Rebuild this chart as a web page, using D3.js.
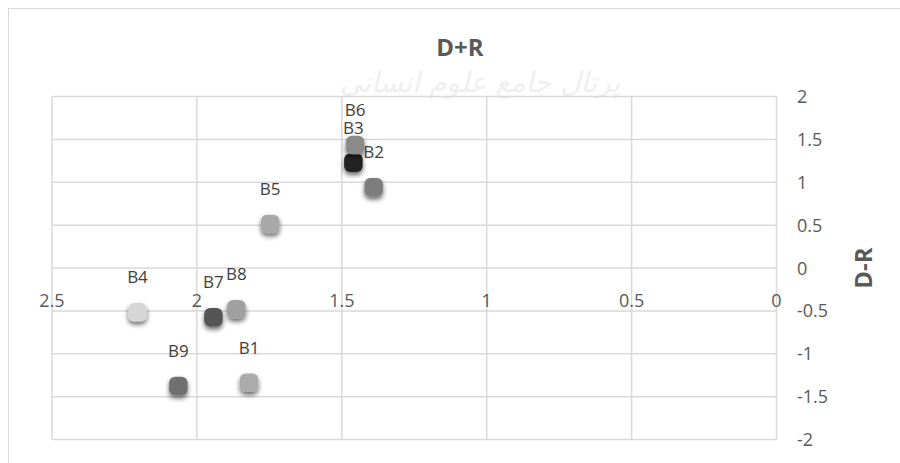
<!DOCTYPE html>
<html><head><meta charset="utf-8">
<script src="https://cdn.jsdelivr.net/npm/d3@7"></script>
<style>body{margin:0;background:#fff;}svg{display:block;font-family:"Open Sans","Noto Sans",sans-serif;}</style>
</head><body>
<svg id="c" width="900" height="463"></svg>
<script>
const names = ["B1","B2","B3","B4","B5","B6","B7","B8","B9"];
const dPlusR = [1.82, 1.39, 1.46, 2.205, 1.747, 1.454, 1.943, 1.864, 2.064];
const dMinusR = [-1.337, 0.941, 1.228, -0.517, 0.513, 1.434, -0.575, -0.48, -1.376];
const fills = ["#ababab","#7d7d7d","#222222","#d6d6d6","#a8a8a8","#8a8a8a","#555555","#a0a0a0","#707070"];
const xTicks = [2.5, 2, 1.5, 1, 0.5, 0];
const yTicks = [2, 1.5, 1, 0.5, 0, -0.5, -1, -1.5, -2];
const title = "D+R", yTitle = "D-R";
const watermark = "پرتال جامع علوم انسانی";

const svg = d3.select("#c");
const x = d3.scaleLinear().domain([2.5, 0]).range([52, 776.5]);
const y = d3.scaleLinear().domain([-2, 2]).range([439.5, 96.5]);

const defs = svg.append("defs");
const f = defs.append("filter").attr("id","sh").attr("x","-60%").attr("y","-60%").attr("width","220%").attr("height","220%");
f.append("feGaussianBlur").attr("in","SourceAlpha").attr("stdDeviation",2.6).attr("result","b");
f.append("feOffset").attr("in","b").attr("dx",0).attr("dy",3).attr("result","o");
f.append("feComponentTransfer").attr("in","o").attr("result","o2").append("feFuncA").attr("type","linear").attr("slope",0.6);
const m = f.append("feMerge");
m.append("feMergeNode").attr("in","o2");
m.append("feMergeNode").attr("in","SourceGraphic");

// faint watermark
svg.append("text").attr("x",480).attr("y",92).attr("text-anchor","middle")
  .attr("font-family","'DejaVu Sans',sans-serif").attr("font-size",28).attr("fill","#efefef")
  .attr("font-style","italic").text(watermark);

// chart border
svg.append("rect").attr("x",8.5).attr("y",8.5).attr("width",900).attr("height",460)
  .attr("fill","none").attr("stroke","#d9d9d9").attr("stroke-width",1);

// gridlines
const g = svg.append("g");
g.selectAll("line.h").data(yTicks).join("line")
  .attr("x1",x(2.5)).attr("x2",x(0)).attr("y1",d=>y(d)).attr("y2",d=>y(d))
  .attr("stroke","#d9d9d9").attr("stroke-width",1.5);
g.selectAll("line.v").data(xTicks).join("line")
  .attr("y1",y(2)).attr("y2",y(-2)).attr("x1",d=>x(d)).attr("x2",d=>x(d))
  .attr("stroke","#d9d9d9").attr("stroke-width",1.5);

// x tick labels
svg.selectAll("text.xt").data(xTicks).join("text")
  .attr("x",d=>x(d)).attr("y",y(0)+38.5).attr("text-anchor","middle")
  .attr("font-size",18).attr("fill","#595959").text(d=>d);

// y tick labels (right)
svg.selectAll("text.yt").data(yTicks).join("text")
  .attr("x",797).attr("y",d=>y(d)+6.5).attr("text-anchor","start")
  .attr("font-size",18).attr("fill","#595959").text(d=>d);

// titles
svg.append("text").attr("x",460).attr("y",55.5).attr("text-anchor","middle")
  .attr("font-size",24).attr("font-weight","bold").attr("fill","#595959").text(title);
svg.append("text").attr("transform",`translate(872,${y(0)}) rotate(-90)`).attr("text-anchor","middle")
  .attr("font-size",24).attr("font-weight","bold").attr("fill","#595959").text(yTitle);

// points
const data = names.map((n,i)=>({n, x:dPlusR[i], y:dMinusR[i], c:fills[i]}));
const s = 18.5;
svg.append("g").selectAll("rect").data(data).join("rect")
  .attr("x",d=>x(d.x)-s/2).attr("y",d=>y(d.y)-s/2).attr("width",s).attr("height",s)
  .attr("rx",6).attr("fill",d=>d.c).attr("filter","url(#sh)");

// labels
svg.append("g").selectAll("text").data(data).join("text")
  .attr("x",d=>x(d.x)).attr("y",d=>y(d.y)-29).attr("text-anchor","middle")
  .attr("font-size",17).attr("fill","#404040").text(d=>d.n);
</script>
</body></html>
